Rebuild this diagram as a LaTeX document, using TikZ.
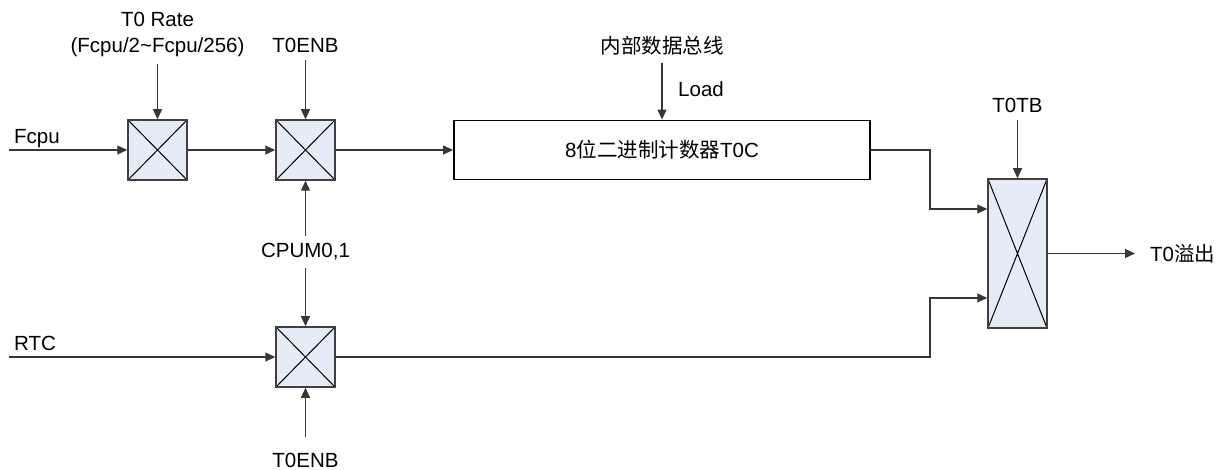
\documentclass[tikz,border=0pt]{standalone}
\usepackage{fontspec}
\setmainfont{Liberation Sans}
\newfontfamily\cjk{Noto Sans CJK SC}
\usetikzlibrary{arrows.meta,positioning,calc}
\usepackage{xcolor}
\definecolor{muxfill}{RGB}{230,236,247}
\definecolor{wire}{RGB}{55,55,55}
\tikzset{
    mux/.style={rectangle, draw=black!75, fill=muxfill, line width=1.5pt, minimum width=59pt, minimum height=60pt, inner sep=0pt,
        path picture={\draw[black, line width=1pt] (path picture bounding box.north west) -- (path picture bounding box.south east)
            (path picture bounding box.north east) -- (path picture bounding box.south west);}},
    muxtall/.style={mux, minimum height=149pt},
    counter/.style={rectangle, draw=black, fill=white, line width=1.8pt, minimum width=416pt, minimum height=59pt, inner sep=0pt},
    lbl/.style={inner sep=0pt, outer sep=8pt, align=center},
    line/.style={draw=wire, -{Triangle[length=10pt,width=9pt]}, line width=1.2pt}
}
\begin{document}
\begin{tikzpicture}[x=1pt, y=-1pt, node distance=100pt, font=\fontsize{20.5}{26}\selectfont]
    \useasboundingbox (0,0) rectangle (1221,470);

    \node [mux] (mux1) at (157.5,150) {};
    \node [mux, right of=mux1, node distance=148pt] (mux2) {};
    \node [counter, right of=mux2, node distance=356.5pt] (cnt) {8{\cjk 位二进制计数器}T0C};
    \node [mux, below of=mux2, node distance=207pt] (mux3) {};
    \node [muxtall] (sel) at (1017.5,253.5) {};

    \node [lbl, above of=mux1, node distance=116pt] (rate) {T0 Rate\\(Fcpu/2\char`\~Fcpu/256)};
    \node [lbl, above of=mux2, node distance=105pt] (enbtop) {T0ENB};
    \node [lbl, above of=cnt, node distance=104pt] (bus) {\cjk 内部数据总线};
    \node [inner sep=0pt, anchor=base west] (load) at (678,97) {Load};
    \node [lbl, below of=mux2, node distance=102pt] (cpum) {CPUM0,1};
    \node [lbl, below of=mux3, node distance=103pt] (enbbot) {T0ENB};
    \node [lbl, above of=sel, node distance=148.5pt] (tb) {T0TB};
    \node [inner sep=0pt, anchor=base west] (fcpu) at (14,143.5) {Fcpu};
    \node [inner sep=0pt, anchor=base west] (rtc) at (14,350.5) {RTC};
    \node [inner sep=0pt, anchor=west] (ovf) at (1150,253.5) {T0{\cjk 溢出}};

    \coordinate (fcpuin) at (9,150);
    \coordinate (rtcin) at (9,357);
    \coordinate (turn) at ($(cnt.east)+(59pt,0)$);

    \path [line] (fcpuin) -- (mux1);
    \path [line] (mux1) -- (mux2);
    \path [line] (mux2) -- (cnt);
    \path [line] (rate) -- (mux1);
    \path [line] (enbtop) -- (mux2);
    \path [line] (bus) -- (cnt);
    \path [line] (cpum) -- (mux2);
    \path [line] (cpum) -- (mux3);
    \path [line] (rtcin) -- (mux3);
    \path [line, shorten <=8pt] (enbbot) -- (mux3);
    \path [line] (tb) -- (sel);
    \path [line] (cnt.east) -- (turn) |- ([yshift=44.5pt]sel.west);
    \path [line] (mux3.east) -- (mux3.east -| turn) |- ([yshift=-44.5pt]sel.west);
    \path [line] (sel) -- ([xshift=-15pt]ovf.west);
\end{tikzpicture}
\end{document}
